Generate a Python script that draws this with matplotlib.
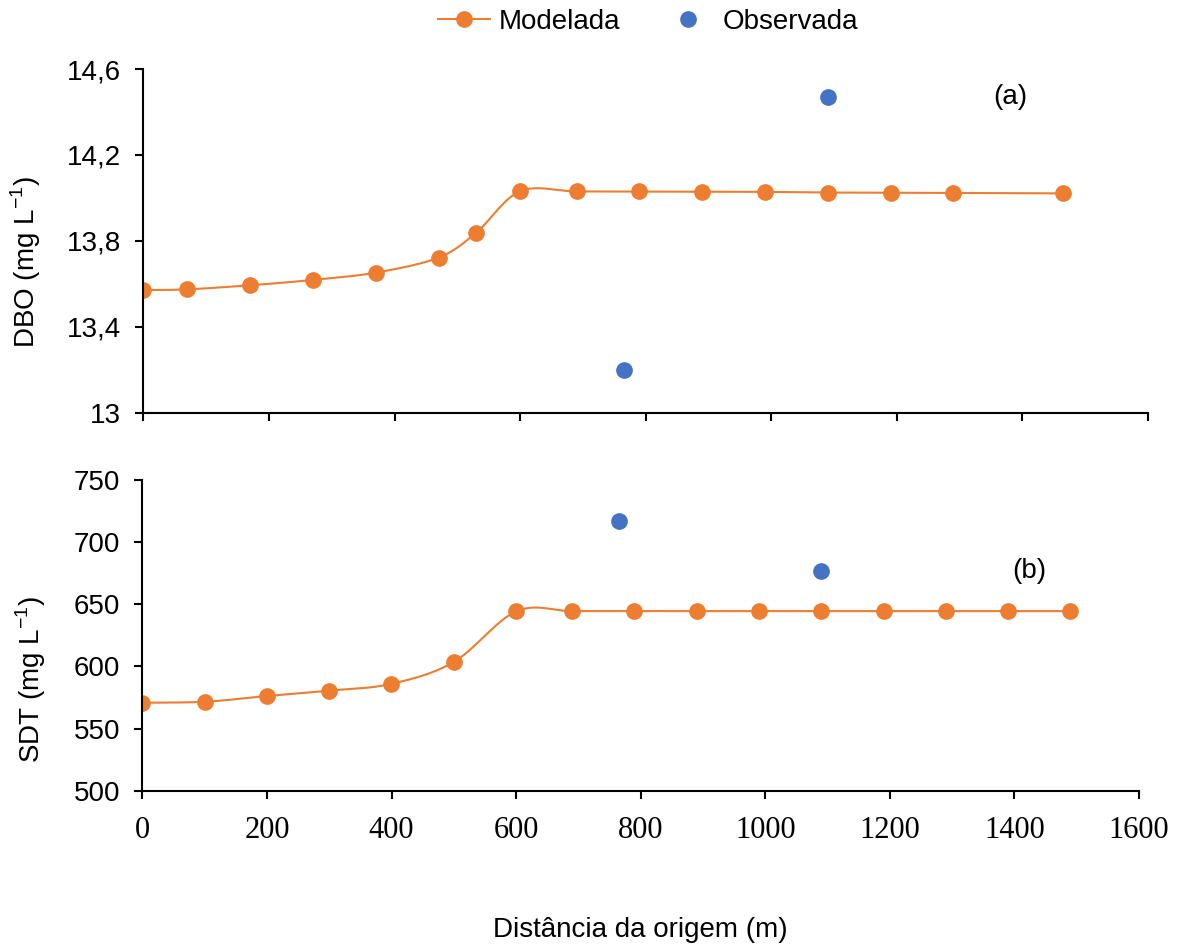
import matplotlib
matplotlib.use("Agg")
import matplotlib.pyplot as plt
import numpy as np
from matplotlib.lines import Line2D

# Modelled DBO (panel a)
dbo_dist = [0, 69, 169, 270, 370, 470, 530, 600, 690, 790, 890, 990, 1090, 1190, 1290, 1465]
dbo_mod = [13.571, 13.574, 13.593, 13.618, 13.652, 13.722, 13.838, 14.031, 14.030, 14.030,
           14.029, 14.028, 14.025, 14.024, 14.023, 14.021]
# Observed DBO
dbo_obs_dist = [765, 1090]
dbo_obs = [13.20, 14.468]

# Modelled SDT (panel b)
sdt_dist = [0, 101, 200, 300, 399, 500, 600, 690, 790, 890, 990, 1090, 1190, 1290, 1390, 1490]
sdt_mod = [570.8, 571.6, 576.2, 580.5, 585.9, 603.6, 644.3, 644.5, 644.5, 644.5, 644.5,
           644.5, 644.5, 644.5, 644.5, 644.5]
# Observed SDT
sdt_obs_dist = [765, 1090]
sdt_obs = [717.3, 677.0]

ORANGE = "#ED7D31"
BLUE = "#4472C4"
SANS = "Liberation Sans"
SERIF = "Liberation Serif"
FS = 20


def smooth(x, y, n=30):
    """Catmull-Rom style smoothing, similar to a spreadsheet 'smoothed line'."""
    x = np.asarray(x, float)
    y = np.asarray(y, float)
    px = np.concatenate([[x[0]], x, [x[-1]]])
    py = np.concatenate([[y[0]], y, [y[-1]]])
    xs, ys = [], []
    t = np.linspace(0, 1, n)
    for i in range(1, len(px) - 2):
        p0, p1, p2, p3 = (px[i - 1], py[i - 1]), (px[i], py[i]), (px[i + 1], py[i + 1]), (px[i + 2], py[i + 2])
        c1 = (p1[0] + (p2[0] - p0[0]) / 6, p1[1] + (p2[1] - p0[1]) / 6)
        c2 = (p2[0] - (p3[0] - p1[0]) / 6, p2[1] - (p3[1] - p1[1]) / 6)
        bx = (1 - t) ** 3 * p1[0] + 3 * (1 - t) ** 2 * t * c1[0] + 3 * (1 - t) * t ** 2 * c2[0] + t ** 3 * p2[0]
        by = (1 - t) ** 3 * p1[1] + 3 * (1 - t) ** 2 * t * c1[1] + 3 * (1 - t) * t ** 2 * c2[1] + t ** 3 * p2[1]
        xs.extend(bx)
        ys.extend(by)
    return np.array(xs), np.array(ys)


def style_axis(ax):
    for s in ["top", "right"]:
        ax.spines[s].set_visible(False)
    for s in ["left", "bottom"]:
        ax.spines[s].set_linewidth(1.5)
        ax.spines[s].set_color("black")
    ax.tick_params(direction="out", length=6, width=1.5, colors="black")
    ax.tick_params(axis="y", pad=10)
    ax.set_xlim(0, 1600)
    ax.set_xticks(np.arange(0, 1601, 200))


fig = plt.figure(figsize=(11.82, 9.48), dpi=100)

# Panel (a)
ax1 = fig.add_axes([0.1214, 0.5647, 0.8498, 0.3625])
sx, sy = smooth(dbo_dist, dbo_mod)
ax1.plot(sx, sy, color=ORANGE, lw=1.5)
ax1.plot(dbo_dist, dbo_mod, "o", color=ORANGE, ms=11)
ax1.plot(dbo_obs_dist, dbo_obs, "o", color=BLUE, ms=11)
style_axis(ax1)
ax1.set_ylim(13, 14.6)
ax1.set_yticks([13, 13.4, 13.8, 14.2, 14.6])
ax1.set_yticklabels(["13", "13,4", "13,8", "14,2", "14,6"], fontsize=FS, family=SANS)
ax1.set_xticklabels([])
ax1.text(1380, 14.47, "(a)", fontsize=FS, family=SANS, ha="center", va="center")
fig.text(26 / 1182, 1 - 262 / 948, "DBO (mg L$^{\\mathregular{-1}}$)", fontsize=FS, family=SANS,
         rotation=90, ha="center", va="center")

# Panel (b)
ax2 = fig.add_axes([0.1205, 0.1659, 0.8431, 0.3278])
sx, sy = smooth(sdt_dist, sdt_mod)
ax2.plot(sx, sy, color=ORANGE, lw=1.5)
ax2.plot(sdt_dist, sdt_mod, "o", color=ORANGE, ms=11)
ax2.plot(sdt_obs_dist, sdt_obs, "o", color=BLUE, ms=11)
style_axis(ax2)
ax2.set_ylim(500, 750)
ax2.set_yticks(np.arange(500, 751, 50))
ax2.set_yticklabels([str(v) for v in range(500, 751, 50)], fontsize=FS, family=SANS)
ax2.set_xticklabels([str(v) for v in range(0, 1601, 200)], fontsize=22, family=SERIF)
ax2.tick_params(axis="x", pad=12)
ax2.text(1424, 677, "(b)", fontsize=FS, family=SANS, ha="center", va="center")
fig.text(31 / 1182, 1 - 680 / 948, "SDT (mg L$^{\\mathregular{-1}}$)", fontsize=FS, family=SANS,
         rotation=90, ha="center", va="center")

fig.text(640 / 1182, 1 - 930 / 948, "Distância da origem (m)", fontsize=FS, family=SANS,
         ha="center", va="center")

handles = [Line2D([], [], color=ORANGE, lw=1.5, marker="o", ms=11),
           Line2D([], [], color=BLUE, lw=0, marker="o", ms=11)]
fig.legend(handles, ["Modelada", "Observada"], loc="center", bbox_to_anchor=(648 / 1182, 1 - 22 / 948),
           ncol=2, frameon=False, prop={"family": SANS, "size": FS},
           handlelength=1.9, handletextpad=0.3, columnspacing=1.5)

fig.savefig("out.png", dpi=100)
